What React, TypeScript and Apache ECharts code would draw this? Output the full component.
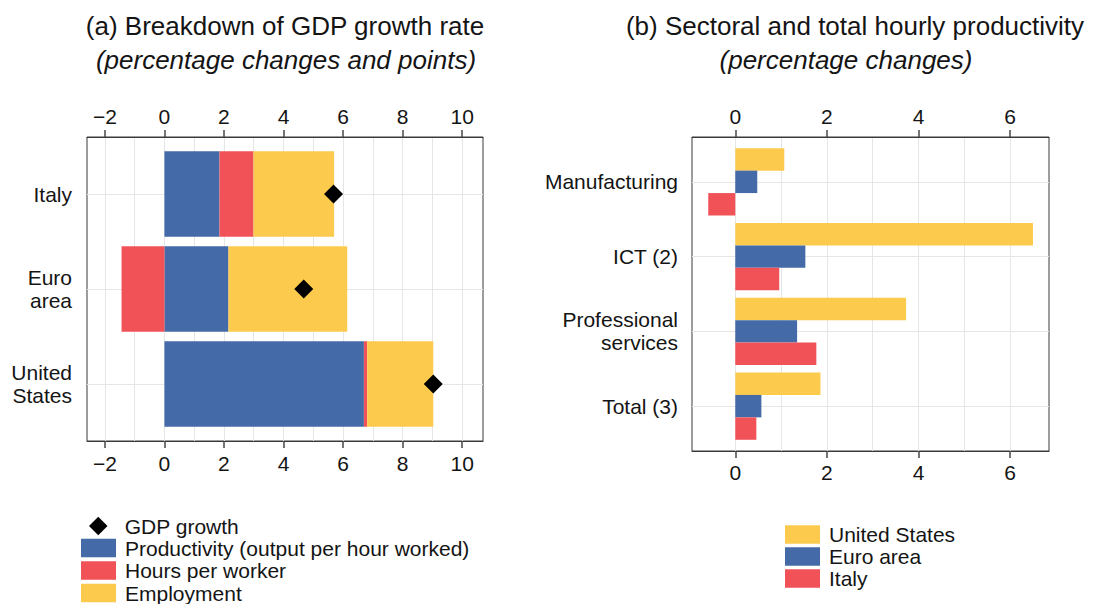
import React, { useEffect, useRef } from 'react';
import * as echarts from 'echarts';

// ---------- Data ----------
const countries = ['Italy', 'Euro area', 'United States'];
const countryLabels = ['Italy', 'Euro\narea', 'United\nStates'];
const productivity = [1.85, 2.15, 6.7];
const hoursPerWorker = [1.14, -1.44, 0.11];
const employment = [2.71, 3.99, 2.22];
const gdpGrowth = [5.68, 4.68, 9.03];

const sectors = ['Manufacturing', 'ICT (2)', 'Professional services', 'Total (3)'];
const sectorLabels = ['Manufacturing', 'ICT (2)', 'Professional\nservices', 'Total (3)'];
const usProductivity = [1.07, 6.5, 3.73, 1.86];
const euroProductivity = [0.48, 1.53, 1.35, 0.57];
const italyProductivity = [-0.59, 0.96, 1.77, 0.46];

const leftTicks = [-2, 0, 2, 4, 6, 8, 10];
const leftGridValues = [-2, -1, 0, 1, 2, 3, 4, 5, 6, 7, 8, 9, 10];
const rightTicks = [0, 2, 4, 6];
const rightGridValues = [0, 1, 2, 3, 4, 5, 6];

const leftLegendNames = ['GDP growth', 'Productivity (output per hour worked)', 'Hours per worker', 'Employment'];
const rightLegendNames = ['United States', 'Euro area', 'Italy'];

// ---------- Style ----------
const FONT = "'Liberation Sans', Arial, Helvetica, sans-serif";
const BLUE = '#456AA8';
const RED = '#F05258';
const YELLOW = '#FCCB4E';
const TEXT = '#141414';
const GRIDLINE = '#e6e6e6';
const BORDER = '#3a3a3a';
const TICK = '#474747';

function stackSegments(list: number[][]) {
  const n = list[0].length;
  const pos = new Array(n).fill(0);
  const neg = new Array(n).fill(0);
  return list.map((vals) =>
    vals.map((v, i) => {
      if (v >= 0) {
        const s = pos[i];
        pos[i] += v;
        return [s, pos[i], i];
      }
      const s = neg[i];
      neg[i] += v;
      return [s, neg[i], i];
    })
  );
}

const minus = (v: number) => String(v).replace('-', '\u2212');

function rectFrom(api: any, x0: number, x1: number, y0: number, y1: number) {
  const a = api.coord([x0, y0]);
  const b = api.coord([x1, y1]);
  return {
    type: 'rect',
    shape: {
      x: Math.min(a[0], b[0]),
      y: Math.min(a[1], b[1]),
      width: Math.abs(b[0] - a[0]),
      height: Math.abs(b[1] - a[1]),
    },
    style: { fill: api.visual('color') },
  };
}

export default function App() {
  const ref = useRef<HTMLDivElement>(null);

  useEffect(() => {
    if (!ref.current) return;
    const chart = echarts.init(ref.current, undefined, { renderer: 'svg' });

    const [prodSeg, hoursSeg, empSeg] = stackSegments([productivity, hoursPerWorker, employment]);

    const leftBar = (params: any, api: any) => {
      const s = api.value(0);
      const e = api.value(1);
      const c = api.value(2);
      return rectFrom(api, s, e, c - 0.45, c + 0.45);
    };
    const rightBar = (offset: number) => (params: any, api: any) => {
      const v = api.value(0);
      const c = api.value(1);
      return rectFrom(api, 0, v, c + offset - 0.15, c + offset + 0.15);
    };

    const labelStyle = { color: TEXT, fontSize: 21, fontFamily: FONT };

    const xMain = (grid: number, pos: 'top' | 'bottom', min: number, max: number, ticks: number[], margin: number) => ({
      type: 'value',
      gridIndex: grid,
      position: pos,
      min,
      max,
      axisLine: { show: true, onZero: false, lineStyle: { color: BORDER, width: 1 } },
      axisTick: { show: true, inside: false, length: 7, customValues: ticks, lineStyle: { color: TICK, width: 1.5 } },
      axisLabel: { ...labelStyle, customValues: ticks, margin, formatter: (v: number) => minus(v) },
      splitLine: { show: false },
    });
    const xGrid = (grid: number, min: number, max: number, vals: number[]) => ({
      type: 'value',
      gridIndex: grid,
      position: 'bottom',
      min,
      max,
      axisLine: { show: false, onZero: false },
      axisTick: { show: false, customValues: vals },
      axisLabel: { show: false, customValues: vals },
      splitLine: { show: true, lineStyle: { color: GRIDLINE, width: 1 } },
    });

    const legendRow = (name: string, left: number, top: number, icon: string) => ({
      orient: 'vertical',
      left,
      top,
      padding: 0,
      itemWidth: 35,
      itemHeight: 18.5,
      selectedMode: false,
      textStyle: { color: TEXT, fontSize: 21, fontFamily: FONT, padding: [0, 0, 0, 4] },
      data: [{ name, icon }],
    });

    const diamondIcon = 'path://M0,-1L1,0L0,1L-1,0Z';
    const leftLegendTops = [515.5, 537.5, 560, 582.5];
    const leftLegendLefts = [89, 81, 81, 81];
    const rightLegendTops = [524, 546, 568];

    const option: any = {
      animation: false,
      textStyle: { fontFamily: FONT },
      grid: [
        { left: 87, top: 137, width: 396, height: 304, show: true, borderColor: BORDER, borderWidth: 1, backgroundColor: 'transparent' },
        { left: 692, top: 137, width: 357, height: 314, show: true, borderColor: BORDER, borderWidth: 1, backgroundColor: 'transparent' },
      ],
      xAxis: [
        xMain(0, 'top', -2.6, 10.7, leftTicks, 10),
        xMain(0, 'bottom', -2.6, 10.7, leftTicks, 12),
        xGrid(0, -2.6, 10.7, leftGridValues),
        xMain(1, 'top', -0.945, 6.85, rightTicks, 10),
        xMain(1, 'bottom', -0.945, 6.85, rightTicks, 11),
        xGrid(1, -0.945, 6.85, rightGridValues),
      ],
      yAxis: [
        {
          type: 'value',
          gridIndex: 0,
          min: -0.6,
          max: 2.6,
          inverse: true,
          axisLine: { show: false, onZero: false },
          axisTick: { show: false, customValues: [0, 1, 2] },
          axisLabel: {
            ...labelStyle,
            lineHeight: 23,
            margin: 15,
            customValues: [0, 1, 2],
            formatter: (v: number) => countryLabels[Math.round(v)] ?? '',
          },
          splitLine: { show: true, lineStyle: { color: GRIDLINE, width: 1 } },
        },
        {
          type: 'value',
          gridIndex: 1,
          min: -0.6,
          max: 3.6,
          inverse: true,
          axisLine: { show: false, onZero: false },
          axisTick: { show: false, customValues: [0, 1, 2, 3] },
          axisLabel: {
            ...labelStyle,
            lineHeight: 23,
            margin: 14,
            customValues: [0, 1, 2, 3],
            formatter: (v: number) => sectorLabels[Math.round(v)] ?? '',
          },
          splitLine: { show: true, lineStyle: { color: GRIDLINE, width: 1 } },
        },
      ],
      legend: [
        ...leftLegendNames.map((n, i) => legendRow(n, leftLegendLefts[i], leftLegendTops[i], i === 0 ? diamondIcon : 'rect')),
        ...rightLegendNames.map((n, i) => legendRow(n, 785, rightLegendTops[i], 'rect')),
      ],
      graphic: [
        { type: 'text', x: 285, y: 26, style: { text: '(a) Breakdown of GDP growth rate', fill: TEXT, font: `26px ${FONT}`, textAlign: 'center', textVerticalAlign: 'middle' } },
        { type: 'text', x: 286, y: 60, style: { text: '(percentage changes and points)', fill: TEXT, font: `italic 26px ${FONT}`, textAlign: 'center', textVerticalAlign: 'middle' } },
        { type: 'text', x: 855, y: 26, style: { text: '(b) Sectoral and total hourly productivity', fill: TEXT, font: `26px ${FONT}`, textAlign: 'center', textVerticalAlign: 'middle' } },
        { type: 'text', x: 846, y: 60, style: { text: '(percentage changes)', fill: TEXT, font: `italic 26px ${FONT}`, textAlign: 'center', textVerticalAlign: 'middle' } },
      ],
      series: [
        { name: 'Productivity (output per hour worked)', type: 'custom', xAxisIndex: 0, yAxisIndex: 0, itemStyle: { color: BLUE }, encode: { x: [0, 1], y: 2 }, renderItem: leftBar, data: prodSeg, z: 2 },
        { name: 'Hours per worker', type: 'custom', xAxisIndex: 0, yAxisIndex: 0, itemStyle: { color: RED }, encode: { x: [0, 1], y: 2 }, renderItem: leftBar, data: hoursSeg, z: 2 },
        { name: 'Employment', type: 'custom', xAxisIndex: 0, yAxisIndex: 0, itemStyle: { color: YELLOW }, encode: { x: [0, 1], y: 2 }, renderItem: leftBar, data: empSeg, z: 2 },
        {
          name: 'GDP growth',
          type: 'scatter',
          xAxisIndex: 0,
          yAxisIndex: 0,
          symbol: 'diamond',
          symbolSize: 19,
          itemStyle: { color: '#000', opacity: 1 },
          data: gdpGrowth.map((v, i) => [v, i]),
          z: 5,
        },
        { name: 'United States', type: 'custom', xAxisIndex: 3, yAxisIndex: 1, itemStyle: { color: YELLOW }, encode: { x: 0, y: 1 }, renderItem: rightBar(-0.3), data: usProductivity.map((v, i) => [v, i]), z: 2 },
        { name: 'Euro area', type: 'custom', xAxisIndex: 3, yAxisIndex: 1, itemStyle: { color: BLUE }, encode: { x: 0, y: 1 }, renderItem: rightBar(0), data: euroProductivity.map((v, i) => [v, i]), z: 2 },
        { name: 'Italy', type: 'custom', xAxisIndex: 3, yAxisIndex: 1, itemStyle: { color: RED }, encode: { x: 0, y: 1 }, renderItem: rightBar(0.3), data: italyProductivity.map((v, i) => [v, i]), z: 2 },
      ],
    };

    chart.setOption(option);
    return () => chart.dispose();
  }, []);

  return (
    <div
      ref={ref}
      style={{ position: 'fixed', left: 0, top: 0, width: 1093, height: 604, background: '#fff' }}
    />
  );
}
